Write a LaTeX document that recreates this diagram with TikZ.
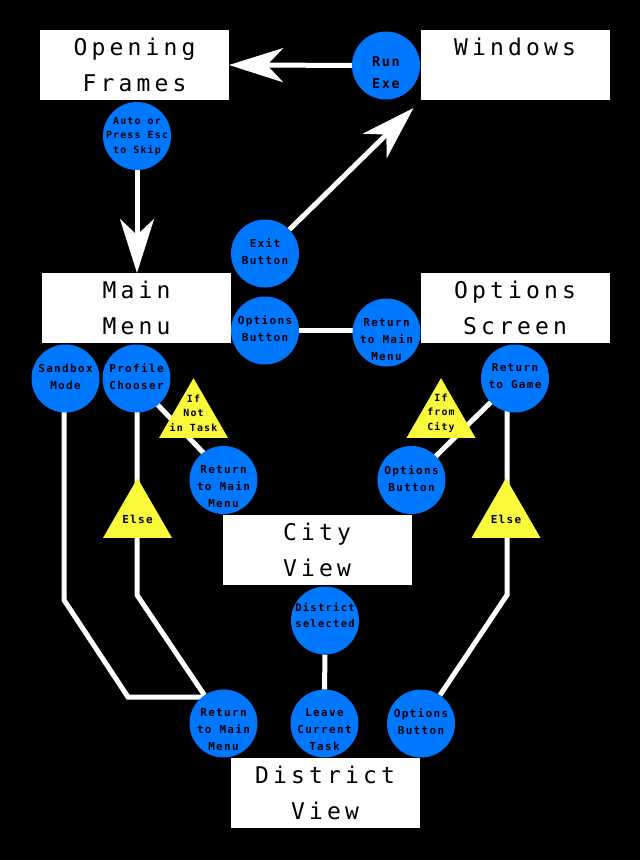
\documentclass[tikz,border=0pt]{standalone}
\usepackage{fontspec}
\usetikzlibrary{arrows.meta,shapes.geometric,calc}
\newfontfamily\dmono[LetterSpace=18]{DejaVu Sans Mono}
\newfontfamily\dmonos[LetterSpace=12]{DejaVu Sans Mono}
\definecolor{nodeblue}{RGB}{0,119,255}
\definecolor{condyellow}{RGB}{250,250,60}
\pgfdeclarelayer{back}
\pgfdeclarelayer{links}
\pgfsetlayers{back,links,main}
\begin{document}
\begin{tikzpicture}[x=1pt,y=-1pt,
  screen/.style={fill=white,minimum width=189pt,minimum height=70pt,inner sep=0pt,outer sep=0pt,
    font=\dmono\fontsize{23}{36}\selectfont,align=center,text=black},
  action/.style={circle,fill=nodeblue,minimum size=68pt,inner sep=0pt,outer sep=0pt},
  acttext/.style={font=\dmonos\bfseries\fontsize{11}{17}\selectfont,align=center,inner sep=0pt,text=black},
  smalltext/.style={font=\dmonos\bfseries\fontsize{9.9}{14.5}\selectfont,align=center,inner sep=0pt,text=black},
  bigtext/.style={font=\dmonos\bfseries\fontsize{13.5}{22}\selectfont,align=center,inner sep=0pt,text=black},
  cond/.style={regular polygon,regular polygon sides=3,fill=condyellow,minimum size=79.7pt,inner sep=0pt,outer sep=0pt},
  link/.style={white,line width=5pt},
  flow/.style={link,-{Stealth[length=54pt,width=34pt,inset=16pt]}},
]
\useasboundingbox (0,0) rectangle (640,860);
\begin{pgfonlayer}{back}
\fill[black] (0,0) rectangle (640,860);
\end{pgfonlayer}

% screens
\node[screen] (OF) at (134.5,65) {Opening\\Frames};
\node[screen] (WI) at (515,65) {Windows\\\phantom{W}};
\node[screen] (MM) at (136.5,308) {Main\\Menu};
\node[screen] (OS) at (515,308) {Options\\Screen};
\node[screen] (CV) at (317,550) {City\\View};
\node[screen] (DV) at (325,793) {District\\View};

% conditions
\node[cond] (C1) at (193.5,418) {};
\node[smalltext] (C1t) at (193.5,413) {If\\Not\\in Task};
\node[cond] (C2) at (441,418) {};
\node[smalltext] (C2t) at (441,413) {If\\from\\City};
\node[cond] (C3) at (137.5,518) {};
\node[acttext] (C3t) at (137.5,519) {Else};
\node[cond] (C4) at (506,518) {};
\node[acttext] (C4t) at (506,519) {Else};

% actions
\node[action] (AU) at (137,136) {};
\node[smalltext] (AUt) at (137,136) {Auto or\\Press Esc\\to Skip};
\node[action] (RE) at (386,65.5) {};
\node[bigtext] (REt) at (386,73) {Run\\Exe};
\node[action] (EX) at (265,253.5) {};
\node[acttext] (EXt) at (265,251.5) {Exit\\Button};
\node[action] (OB1) at (265,330.5) {};
\node[acttext] (OB1t) at (265,329) {Options\\Button};
\node[action] (R0) at (386.5,332.5) {};
\node[acttext] (R0t) at (386.5,339.5) {Return\\to Main\\Menu};
\node[action] (SB) at (65.5,378.5) {};
\node[acttext] (SBt) at (65.5,376.5) {Sandbox\\Mode};
\node[action] (PC) at (136.5,378.5) {};
\node[acttext] (PCt) at (136.5,376.5) {Profile\\Chooser};
\node[action] (R1) at (223.5,480) {};
\node[acttext] (R1t) at (223.5,487) {Return\\to Main\\Menu};
\node[action] (RG) at (515,378.5) {};
\node[acttext] (RGt) at (515,376.5) {Return\\to Game};
\node[action] (OB2) at (411.5,480) {};
\node[acttext] (OB2t) at (411.5,478.5) {Options\\Button};
\node[action] (DS) at (325,620.5) {};
\node[font=\dmonos\bfseries\fontsize{10.5}{16}\selectfont,align=center,inner sep=0pt,text=black] (DSt) at (325,615.5) {District\\selected};
\node[action] (R2) at (223.5,723.5) {};
\node[acttext] (R2t) at (223.5,730) {Return\\to Main\\Menu};
\node[action] (LT) at (324.5,723.5) {};
\node[acttext] (LTt) at (324.5,730) {Leave\\Current\\Task};
\node[action] (OB3) at (421,723.5) {};
\node[acttext] (OB3t) at (421,721.5) {Options\\Button};

% connectors
\coordinate (wtip) at ($(WI.south west)+(-7,8)$);
\coordinate (sbk1) at (64,600);
\coordinate (sbk2) at (128,697);
\coordinate (pck) at (137,595);
\coordinate (rgk) at (507,595);
\begin{pgfonlayer}{links}
\draw[flow] (RE) -- (OF.east);
\draw[flow] (AU.south) -- (AU.south |- MM.north);
\draw[flow] (EX) -- (wtip);
\draw[link] (OB1.center) -- (OB1.center -| R0.center);
\draw[link] ($(PC.center)+(0,4)$) -- ($(R1.center)+(0,-6)$);
\draw[link] (RG.center) -- (OB2.center);
\draw[link] (SB.center -| sbk1) -- (sbk1) -- (sbk2) -- (sbk2 -| R2.center);
\draw[link] (PC.center -| pck) -- (pck) -- (R2);
\draw[link] (RG.center -| rgk) -- (rgk) -- (OB3);
\draw[link] (DS) -- (LT);
\end{pgfonlayer}
\end{tikzpicture}
\end{document}
